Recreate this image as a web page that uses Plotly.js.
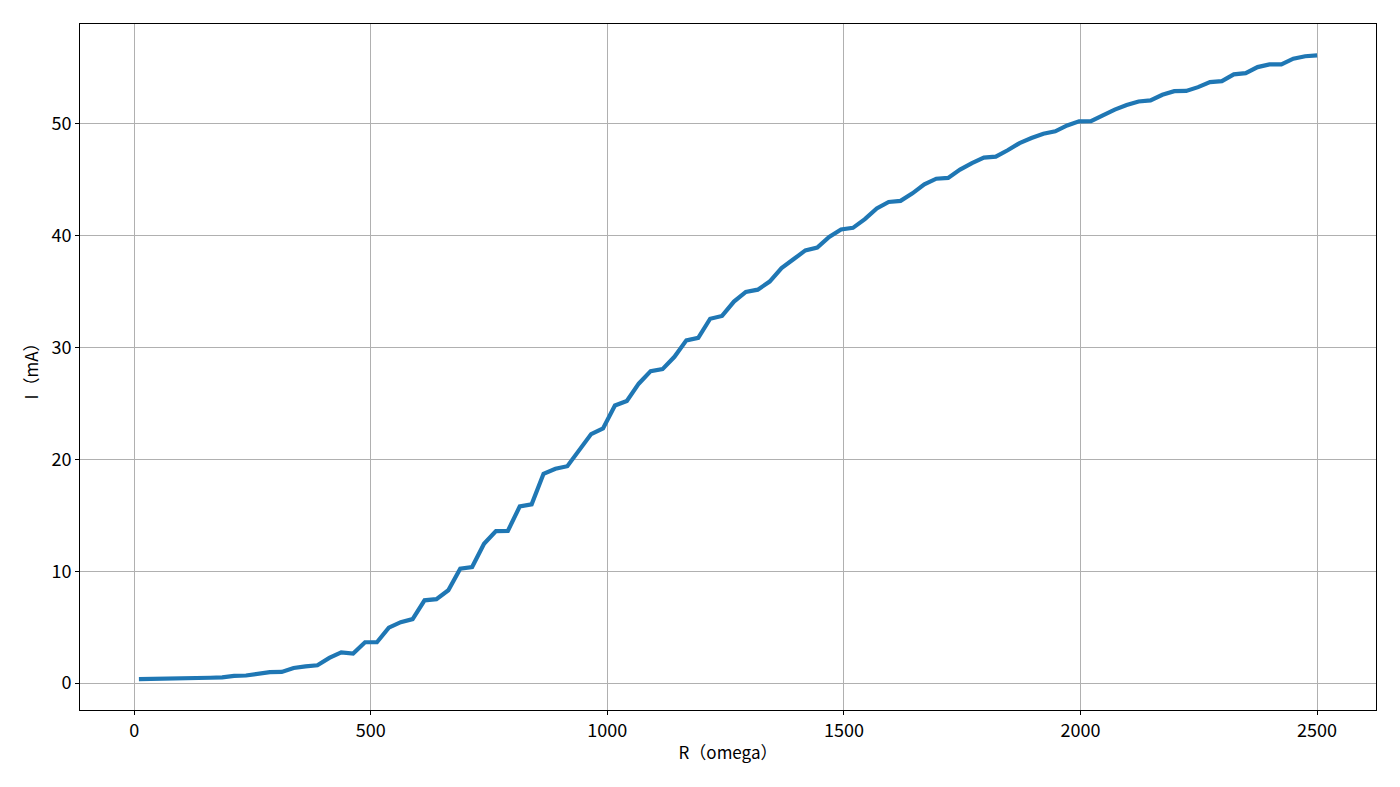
<!DOCTYPE html>
<html>
<head>
<meta charset="utf-8">
<script src="https://cdn.plot.ly/plotly-3.0.1.min.js"></script>
<style>html,body{margin:0;padding:0;background:#fff;}#chart{width:1400px;height:787px;}</style>
</head>
<body>
<div id="chart"></div>
<script>
const resistance = [10, 35.15, 60.30, 85.45, 110.61, 135.76, 160.91, 186.06, 211.21, 236.36,
  261.52, 286.67, 311.82, 336.97, 362.12, 387.27, 412.42, 437.58, 462.73, 487.88,
  513.03, 538.18, 563.33, 588.48, 613.64, 638.79, 663.94, 689.09, 714.24, 739.39,
  764.55, 789.70, 814.85, 840.00, 865.15, 890.30, 915.45, 940.61, 965.76, 990.91,
  1016.06, 1041.21, 1066.36, 1091.52, 1116.67, 1141.82, 1166.97, 1192.12, 1217.27, 1242.42,
  1267.58, 1292.73, 1317.88, 1343.03, 1368.18, 1393.33, 1418.48, 1443.64, 1468.79, 1493.94,
  1519.09, 1544.24, 1569.39, 1594.55, 1619.70, 1644.85, 1670.00, 1695.15, 1720.30, 1745.45,
  1770.61, 1795.76, 1820.91, 1846.06, 1871.21, 1896.36, 1921.52, 1946.67, 1971.82, 1996.97,
  2022.12, 2047.27, 2072.42, 2097.58, 2122.73, 2147.88, 2173.03, 2198.18, 2223.33, 2248.48,
  2273.64, 2298.79, 2323.94, 2349.09, 2374.24, 2399.39, 2424.55, 2449.70, 2474.85, 2500];

const current = [0.35, 0.36, 0.37, 0.40, 0.42, 0.44, 0.48, 0.52, 0.65, 0.68,
  0.85, 0.98, 1.0, 1.35, 1.5, 1.6, 2.25, 2.75, 2.65, 3.65,
  3.65, 4.95, 5.45, 5.72, 7.4, 7.5, 8.3, 10.22, 10.37, 12.45,
  13.58, 13.6, 15.78, 15.97, 18.7, 19.15, 19.38, 20.8, 22.25, 22.75,
  24.8, 25.2, 26.75, 27.87, 28.05, 29.15, 30.62, 30.85, 32.55, 32.8,
  34.08, 34.95, 35.15, 35.87, 37.07, 37.86, 38.66, 38.9, 39.85, 40.52,
  40.67, 41.45, 42.4, 42.98, 43.08, 43.75, 44.55, 45.06, 45.13, 45.87,
  46.46, 46.94, 47.03, 47.6, 48.24, 48.69, 49.08, 49.29, 49.82, 50.19,
  50.2, 50.71, 51.23, 51.64, 51.96, 52.05, 52.56, 52.88, 52.9, 53.24,
  53.69, 53.78, 54.38, 54.49, 55.03, 55.27, 55.28, 55.78, 56.0, 56.07];

const xTickVals = [0, 500, 1000, 1500, 2000, 2500];
const yTickVals = [0, 10, 20, 30, 40, 50];
const xLabel = 'R（omega）';
const yLabel = 'I（mA）';

const fontFam = '"Noto Sans CJK SC", "DejaVu Sans", sans-serif';

const trace = {
  x: resistance,
  y: current,
  type: 'scatter',
  mode: 'lines',
  line: {color: '#1f77b4', width: 4.2},
  hoverinfo: 'skip'
};

const axisCommon = {
  showgrid: true,
  gridcolor: '#b0b0b0',
  gridwidth: 1,
  zeroline: false,
  showline: true,
  linecolor: '#000000',
  linewidth: 1,
  mirror: true,
  ticks: 'outside',
  ticklen: 4,
  tickwidth: 1,
  tickcolor: '#000000',
  tickfont: {family: fontFam, size: 18, color: '#000000'}
};

const layout = {
  width: 1400,
  height: 787,
  margin: {l: 80, r: 24, t: 24, b: 77},
  paper_bgcolor: '#ffffff',
  plot_bgcolor: '#ffffff',
  showlegend: false,
  xaxis: Object.assign({}, axisCommon, {
    range: [-114.5, 2624.5],
    tickmode: 'array',
    tickvals: xTickVals,
    ticktext: xTickVals.map(String),
    title: {text: xLabel, font: {family: fontFam, size: 17, color: '#000000'}, standoff: 6}
  }),
  yaxis: Object.assign({}, axisCommon, {
    range: [-2.4, 58.88],
    tickmode: 'array',
    tickvals: yTickVals,
    ticktext: yTickVals.map(String),
    title: {text: yLabel, font: {family: fontFam, size: 17, color: '#000000'}, standoff: 8}
  })
};

Plotly.newPlot('chart', [trace], layout, {displayModeBar: false, staticPlot: true});
</script>
</body>
</html>
